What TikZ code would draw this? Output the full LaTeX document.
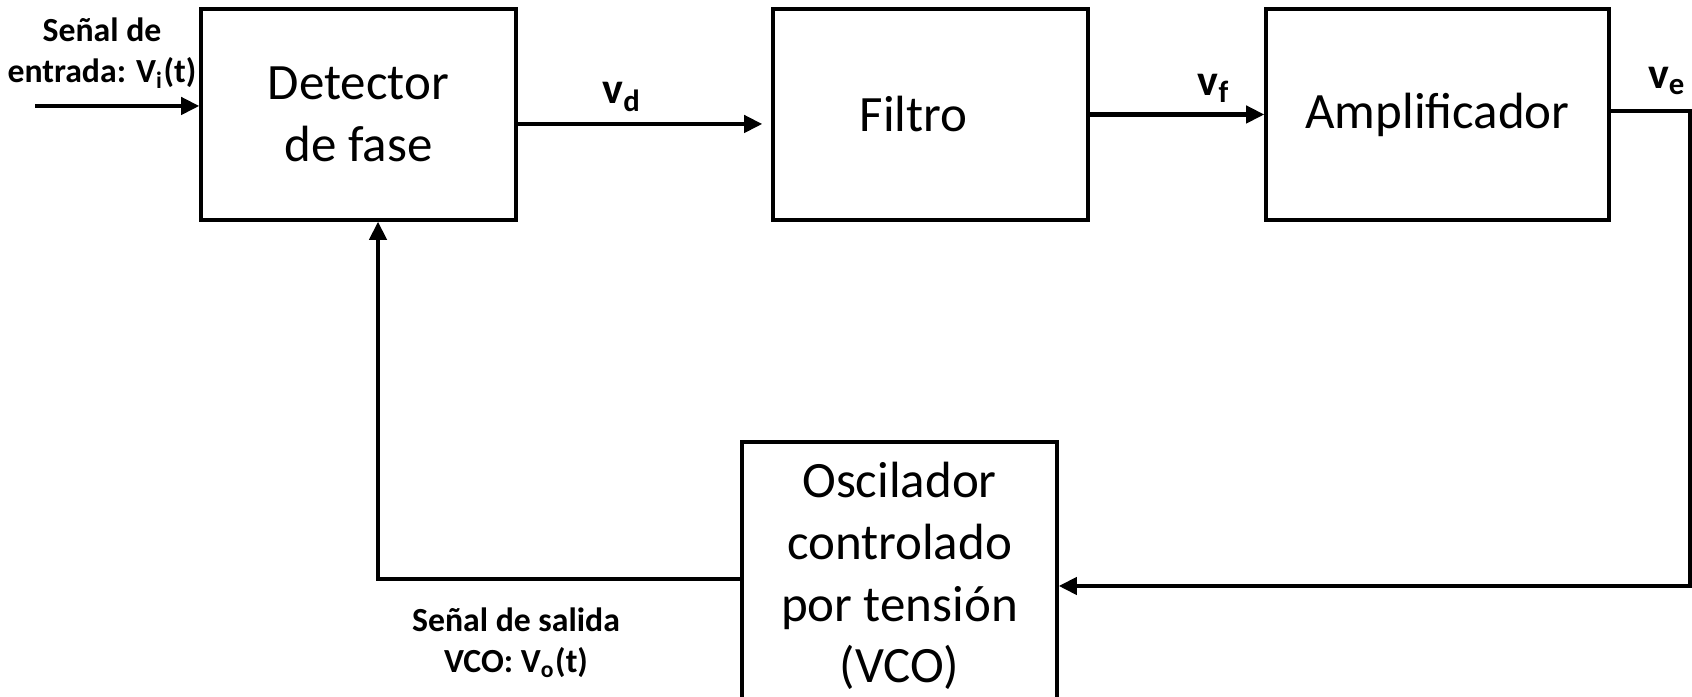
\documentclass[tikz,border=0pt]{standalone}
\usepackage{fontspec}
\setmainfont{Carlito}
\usetikzlibrary{arrows.meta}

\begin{document}
\begin{tikzpicture}[
    bloque/.style={draw, line width=0.9pt, minimum width=3.15cm, minimum height=2.11cm,
        align=center, inner sep=0pt, font=\fontsize{14.5}{17.6}\selectfont},
    senal/.style={line width=1.3pt, -{Triangle[length=5.2pt,width=4.8pt]}},
    etiqueta/.style={align=center, font=\bfseries\fontsize{9.6}{11.7}\selectfont},
    voltaje/.style={font=\bfseries\fontsize{12.5}{14}\selectfont}
]
    \useasboundingbox (0,0) rectangle (16.92,6.97);

    % --------------------------
    % bloques
    % --------------------------
    \node[bloque] (det) at (3.585,5.825) {Detector\\de fase};
    \node[bloque] (fil) at (9.305,5.825) {Filtro\hspace*{0.34cm}};
    \node[bloque, minimum width=3.43cm] (amp) at (14.375,5.825) {Amplificador};
    \node[bloque, minimum height=2.68cm] (vco) at (8.995,1.21) {Oscilador\\controlado\\por tensión\\(VCO)};

    % --------------------------
    % entrada
    % --------------------------
    \coordinate (ent) at (0.35,5.91);
    \draw[senal] (ent) -- (ent -| det.west);
    \node[etiqueta] (lblent) at (1.02,6.44) {Señal de\\entrada: V\textsubscript{i}(t)};

    % detector -> filtro
    \draw[senal] (det.east |- 0,5.73) -- ([xshift=-0.09cm]fil.west |- 0,5.73);
    \node[voltaje] (vd) at (6.22,6.00) {v\textsubscript{d}};

    % filtro -> amplificador
    \draw[senal] (fil.east) -- (amp.west);
    \node[voltaje] (vf) at (12.14,6.09) {v\textsubscript{f}};

    % --------------------------
    % realimentacion
    % --------------------------
    \coordinate (esq) at (16.90,1.11);
    \draw[senal] ([yshift=0.035cm]amp.east) -| (esq) -- (vco.east |- esq);
    \node[voltaje] (ve) at (16.67,6.16) {v\textsubscript{e}};

    % vco -> detector
    \coordinate (ret) at (3.78,1.18);
    \draw[senal] (vco.west |- ret) -- (ret) -- (ret |- det.south);
    \node[etiqueta] (lblsal) at (5.16,0.54) {Señal de salida\\VCO: V\textsubscript{o}(t)};

\end{tikzpicture}
\end{document}
